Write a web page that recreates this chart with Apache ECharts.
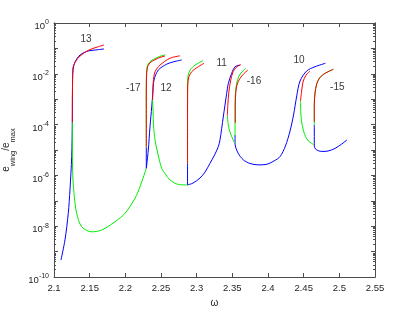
<!DOCTYPE html>
<html><head><meta charset="utf-8">
<script src="https://cdn.jsdelivr.net/npm/echarts@6/dist/echarts.min.js"></script>
<style>html,body{margin:0;padding:0;background:#fff}#c{width:415px;height:312px}</style>
</head><body><div id="c"></div>
<script>
// ---- data (omega, e_wing/e_max) ----
const b13 = [[2.1098,4.7e-10],[2.1154,2.9e-9],[2.1200,3.2e-8],[2.1224,2.7e-7],[2.1248,5.5e-6],[2.1257,1.26e-4],[2.1259,2.3e-3],[2.1266,1.4e-2],[2.1294,2.9e-2],[2.1365,5.5e-2],[2.1477,7.9e-2],[2.1589,8.7e-2],[2.1701,9.5e-2]];
const g13 = [[2.1258,1.26e-4],[2.1259,3.1e-6],[2.1266,6.6e-7],[2.1285,1.45e-7],[2.1318,3.2e-8],[2.1388,9.5e-9],[2.1529,6.0e-9],[2.1669,7.1e-9],[2.1855,1.5e-8],[2.1995,3.2e-8],[2.2136,1.26e-7],[2.2206,3.6e-7],[2.2294,1.9e-6]];
const r13 = [[2.1257,1.26e-4],[2.1259,2.3e-3],[2.1266,1.7e-2],[2.1308,3.2e-2],[2.1365,5.0e-2],[2.1477,8.3e-2],[2.1589,0.109],[2.1701,0.136]];
const b17 = [[2.2294,1.35e-5],[2.2294,1.9e-6]];
const g17 = [[2.2294,1.35e-5],[2.2293,9.3e-4],[2.2295,7.2e-3],[2.2304,1.8e-2],[2.2340,2.9e-2],[2.2410,3.9e-2],[2.2480,4.8e-2],[2.2560,5.6e-2]];
const r17 = [[2.2294,1.35e-5],[2.2294,9.3e-4],[2.2297,6.8e-3],[2.2308,1.7e-2],[2.2346,2.7e-2],[2.2416,3.6e-2],[2.2486,4.4e-2],[2.2556,5.0e-2]];
const b12 = [[2.2294,1.9e-6],[2.2322,1.0e-5],[2.2346,8.3e-5],[2.2370,5.0e-4],[2.2384,1.5e-3],[2.2402,5.7e-3],[2.2462,1.4e-2],[2.2580,2.4e-2],[2.2682,3.0e-2],[2.2790,3.5e-2]];
const g12 = [[2.2382,9.3e-4],[2.2389,3.2e-4],[2.2395,9.6e-5],[2.2416,2.5e-5],[2.2451,8.3e-6],[2.2510,1.9e-6],[2.2570,1.04e-6],[2.2626,6.6e-7],[2.2743,4.4e-7],[2.2872,4.2e-7]];
const r12 = [[2.2382,9.3e-4],[2.2392,4.8e-3],[2.2416,1.2e-2],[2.2486,2.2e-2],[2.2626,4.1e-2],[2.2766,5.1e-2]];
const bA = [[2.2872,3.0e-6],[2.2872,4.2e-7]];
const gA = [[2.2872,3.0e-6],[2.2872,1.5e-4],[2.2872,2.8e-3],[2.2879,8.2e-3],[2.2907,1.4e-2],[2.2977,2.2e-2],[2.3089,3.3e-2]];
const rA = [[2.2872,3.0e-6],[2.2872,1.5e-4],[2.2874,2.3e-3],[2.2886,6.8e-3],[2.2930,1.2e-2],[2.3023,1.9e-2],[2.3103,2.6e-2]];
const b11 = [[2.2872,4.2e-7],[2.2949,5.0e-7],[2.3047,7.9e-7],[2.3117,1.35e-6],[2.3187,3.0e-6],[2.3250,6.3e-6],[2.3303,1.35e-5],[2.3327,2.5e-5],[2.3373,2.0e-4],[2.3421,1.7e-3],[2.3444,4.2e-3],[2.3491,1.05e-2],[2.3538,1.9e-2],[2.3608,2.2e-2]];
const g11 = [[2.3430,2.2e-4],[2.3444,9.6e-5],[2.3467,5.1e-5],[2.3514,2.4e-5],[2.3538,1.8e-5]];
const r11 = [[2.3430,2.2e-4],[2.3437,5.9e-4],[2.3451,1.9e-3],[2.3475,5.2e-3],[2.3510,1.2e-2],[2.3559,1.85e-2],[2.3622,2.3e-2]];
const b10 = [[2.3538,3.9e-5],[2.3538,1.8e-5],[2.3580,7.6e-6],[2.3654,4.1e-6],[2.3748,2.95e-6],[2.3860,2.6e-6],[2.3972,2.7e-6],[2.4084,3.7e-6],[2.4169,5.5e-6],[2.4245,1.45e-5],[2.4309,5.6e-5],[2.4358,2.4e-4],[2.4403,1.35e-3],[2.4449,5.2e-3],[2.4543,1.3e-2],[2.4659,1.9e-2],[2.4806,2.6e-2]];
const g16 = [[2.3538,3.6e-5],[2.3538,3.7e-4],[2.3542,1.5e-3],[2.3559,4.0e-3],[2.3601,8.9e-3],[2.3688,1.65e-2]];
const r16 = [[2.3541,1.15e-4],[2.3542,5.9e-4],[2.3552,2.3e-3],[2.3580,4.8e-3],[2.3632,8.2e-3],[2.3716,1.4e-2]];
const g10 = [[2.4456,8.5e-4],[2.4459,3.2e-4],[2.4470,1.4e-4],[2.4495,6.1e-5],[2.4526,3.4e-5],[2.4565,2.3e-5],[2.4638,1.65e-5]];
const r10 = [[2.4456,8.5e-4],[2.4470,1.9e-3],[2.4491,4.8e-3],[2.4533,8.9e-3],[2.4589,1.3e-2]];
const b15 = [[2.4649,9.6e-5],[2.4649,1.45e-5],[2.4665,1.1e-5],[2.4708,9.3e-6],[2.4757,8.8e-6],[2.4841,9.1e-6],[2.4939,1.15e-5],[2.5031,1.7e-5],[2.5108,2.5e-5]];
const g15 = [[2.4649,9.6e-5],[2.4649,5.9e-4],[2.4659,1.75e-3],[2.4683,4.0e-3],[2.4722,6.8e-3],[2.4775,9.4e-3],[2.4841,1.2e-2],[2.4916,1.5e-2]];
const r15 = [[2.4649,1.26e-4],[2.4649,5.9e-4],[2.4659,1.75e-3],[2.4683,4.0e-3],[2.4722,6.8e-3],[2.4775,9.4e-3],[2.4841,1.2e-2],[2.4916,1.5e-2]];

const labelText = ['13','-17','12','11','-16','10','-15'];
const labelX = [2.1449,2.2112,2.2570,2.3351,2.3804,2.4435,2.4972];
const labelY = [0.23,2.7e-3,2.7e-3,2.6e-2,5.2e-3,3.3e-2,2.9e-3];

const yLabelValues = [1e-10,1e-8,1e-6,1e-4,1e-2,1];
const yDecades = [1e-10,1e-9,1e-8,1e-7,1e-6,1e-5,1e-4,1e-3,1e-2,1e-1,1];
const xMin = 2.1, xMax = 2.55, xStep = 0.05;

// ---- build ----
const yMinor = [];
for (let k = -10; k < 0; k++) for (let m = 2; m <= 9; m++) yMinor.push(+(m + 'e' + k));

const AX = '#4d4d4d', TXT = '#262626', FONT = 'Liberation Sans';
const BLUE = '#0000ff', GREEN = '#00ee00', RED = '#ff0000';

function yAx(pos, ticks, len, labels) {
  return {
    type: 'log', logBase: 10, min: 1e-10, max: 1, position: pos,
    axisLine: { show: true, onZero: false, lineStyle: { color: AX, width: 1 } },
    axisTick: { show: true, inside: true, length: len, customValues: ticks, lineStyle: { color: AX, width: 1 } },
    axisLabel: labels ? {
      show: true, customValues: yLabelValues, margin: 5, fontFamily: FONT,
      formatter: v => '{b|10}{s|' + Math.round(Math.log10(v)) + '}',
      rich: {
        b: { fontSize: 9.5, color: TXT, fontFamily: FONT, lineHeight: 17, verticalAlign: 'bottom' },
        s: { fontSize: 7, color: TXT, fontFamily: FONT, verticalAlign: 'top', padding: [4.5, 0, 0, 0] }
      }
    } : { show: false },
    splitLine: { show: false }
  };
}

const yAxis = [
  Object.assign(yAx('left', yDecades, 4, true), {
    name: '{e|e}{s|wing}{e|/e}{s|max}', nameLocation: 'middle', nameGap: 31,
    nameTextStyle: { rich: {
      e: { fontSize: 10, color: TXT, fontFamily: FONT, lineHeight: 16, verticalAlign: 'top' },
      s: { fontSize: 7.5, color: TXT, fontFamily: FONT, verticalAlign: 'bottom' }
    } }
  }),
  yAx('left', yMinor, 2, false),
  yAx('right', yDecades, 4, false),
  yAx('right', yMinor, 2, false)
];

const xAxis = [
  { type: 'value', min: xMin, max: xMax, interval: xStep, position: 'bottom',
    name: 'ω', nameLocation: 'middle', nameGap: 19,
    nameTextStyle: { fontSize: 10, color: TXT, fontFamily: FONT },
    axisLine: { show: true, onZero: false, lineStyle: { color: AX, width: 1 } },
    axisTick: { show: true, inside: true, length: 4, lineStyle: { color: AX } },
    axisLabel: { show: true, margin: 6, fontSize: 9.5, color: TXT, fontFamily: FONT },
    splitLine: { show: false } },
  { type: 'value', min: xMin, max: xMax, interval: xStep, position: 'top',
    axisLine: { show: true, onZero: false, lineStyle: { color: AX, width: 1 } },
    axisTick: { show: true, inside: true, length: 4, lineStyle: { color: AX } },
    axisLabel: { show: false }, splitLine: { show: false } }
];

const curves = [
  [b13, BLUE], [b17, BLUE], [b12, BLUE], [bA, BLUE], [b11, BLUE], [b10, BLUE], [b15, BLUE],
  [g13, GREEN], [g17, GREEN], [g12, GREEN], [gA, GREEN], [g11, GREEN], [g16, GREEN], [g10, GREEN], [g15, GREEN],
  [r13, RED], [r17, RED], [r12, RED], [rA, RED], [r11, RED], [r16, RED], [r10, RED], [r15, RED]
];

const series = curves.map(([d, c]) => ({
  type: 'line', data: d, xAxisIndex: 0, yAxisIndex: 0, showSymbol: false, symbol: 'none',
  smooth: 0.3, lineStyle: { color: c, width: 1 }, itemStyle: { color: c }, silent: true, animation: false
}));

series.push({
  type: 'scatter', xAxisIndex: 0, yAxisIndex: 0, symbolSize: 1, itemStyle: { color: 'rgba(0,0,0,0)' },
  data: labelX.map((x, i) => [x, labelY[i]]), silent: true, animation: false,
  label: { show: true, position: 'inside', formatter: p => labelText[p.dataIndex], fontSize: 10, color: '#000', fontFamily: FONT }
});

const chart = echarts.init(document.getElementById('c'), null, { renderer: 'canvas' });
chart.setOption({
  backgroundColor: '#fff', animation: false,
  grid: { left: 54, right: 40, top: 23, bottom: 35, containLabel: false, outerBoundsMode: 'none' },
  xAxis, yAxis, series
});
</script></body></html>
